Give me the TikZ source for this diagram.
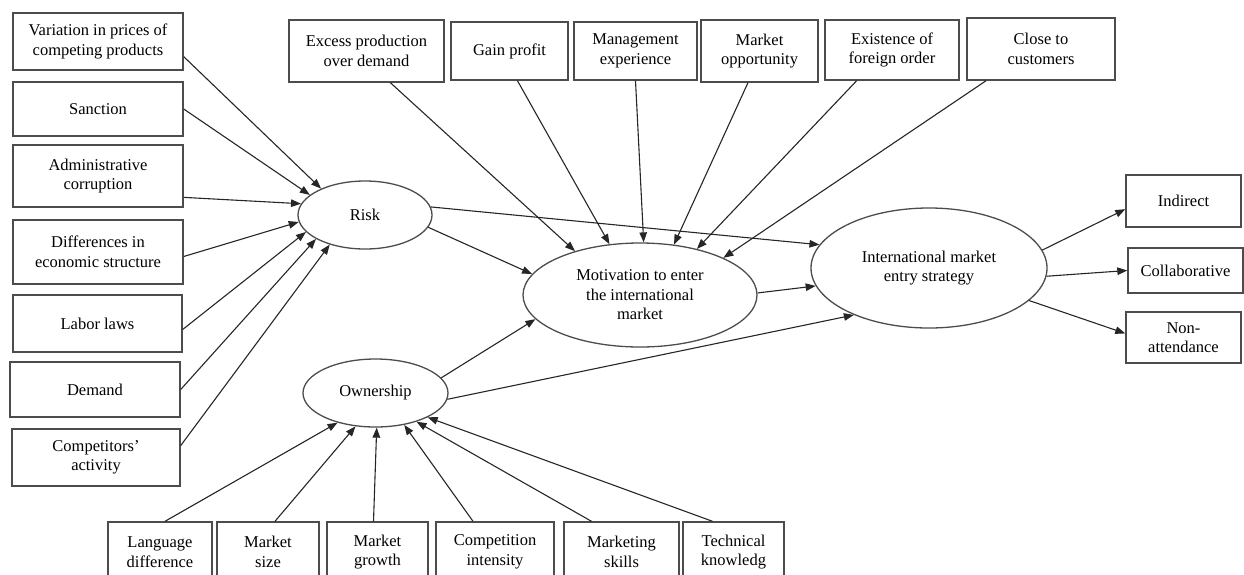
\documentclass[tikz,border=0pt]{standalone}
\usepackage{fontspec}
\setmainfont{Liberation Serif}
\usetikzlibrary{shapes,arrows.meta,positioning}
\tikzstyle{bx}=[rectangle, draw=black!70, line width=1.4, inner sep=2pt, align=center, font=\fontsize{16.5}{19.5}\selectfont]
\tikzstyle{ell}=[ellipse, draw=black!70, line width=1.3, inner sep=0pt, align=center, font=\fontsize{16.5}{19.5}\selectfont]
\tikzstyle{l1}=[line width=1.1, draw=black!85, -{Triangle[length=10pt,width=7.5pt]}]

\begin{document}
\begin{tikzpicture}[x=1pt, y=-1pt]
    \path[use as bounding box, clip] (0,0) rectangle (1244,574);

    % left column: risk factors
    \node[bx, minimum width=170, minimum height=57] at (98,41.5) (v1) {Variation in prices of\\competing products};
    \node[bx, minimum width=170, minimum height=54] at (98,109) (v2) {Sanction};
    \node[bx, minimum width=170, minimum height=62] at (98,176) (v3) {Administrative\\corruption};
    \node[bx, minimum width=170, minimum height=64] at (98,252) (v4) {Differences in\\economic structure};
    \node[bx, minimum width=169, minimum height=57] at (97.5,323.5) (v5) {Labor laws};
    \node[bx, minimum width=170, minimum height=55] at (95,389.5) (v6) {Demand};
    \node[bx, minimum width=168, minimum height=57] at (96,457.5) (v7) {Competitors'\\activity};

    % top row: motivation factors
    \node[bx, minimum width=155, minimum height=62] at (366.5,51) (m1) {Excess production\\over demand};
    \node[bx, minimum width=117, minimum height=58] at (509.5,51) (m2) {Gain profit};
    \node[bx, minimum width=123, minimum height=58] at (635.5,51) (m3) {Management\\experience};
    \node[bx, minimum width=117, minimum height=62] at (759.5,51) (m4) {Market\\opportunity};
    \node[bx, minimum width=134, minimum height=60] at (892,50) (m5) {Existence of\\foreign order};
    \node[bx, minimum width=148, minimum height=62] at (1041,49) (m6) {Close to\\customers};

    % bottom row: ownership factors
    \node[bx, minimum width=104, minimum height=60] at (160,552) (o1) {Language\\difference};
    \node[bx, minimum width=102, minimum height=60] at (268,552) (o2) {Market\\size};
    \node[bx, minimum width=101, minimum height=60] at (377.5,552) (o3) {Market\\growth};
    \node[bx, minimum width=118, minimum height=60] at (495,552) (o4) {Competition\\intensity};
    \node[bx, minimum width=115, minimum height=60] at (621.5,552) (o5) {Marketing\\skills};
    \node[bx, minimum width=101, minimum height=60] at (733.5,552) (o6) {Technical\\knowledg};

    % right column: strategies
    \node[bx, minimum width=115, minimum height=52] at (1183.5,201) (s1) {Indirect};
    \node[bx, minimum width=115, minimum height=45] at (1185.5,270.5) (s2) {Collaborative};
    \node[bx, minimum width=115, minimum height=51] at (1183.5,337.5) (s3) {Non-\\attendance};

    % ellipses
    \node[ell, minimum width=134, minimum height=68] at (365,215) (risk) {Risk};
    \node[ell, minimum width=234, minimum height=104] at (640,295) (mot) {Motivation to enter\\the international\\market};
    \node[ell, minimum width=145, minimum height=68] at (375.5,393) (own) {Ownership};
    \node[ell, minimum width=236, minimum height=120] at (929,268) (ims) {International market\\entry strategy};

    \draw[l1] (v1.-10) -- (risk.149);
    \draw[l1] (v2.east) -- (risk.160);
    \draw[l1] (v3.-14.5) -- (risk.170);
    \draw[l1] (v4.-3) -- (risk.186);
    \draw[l1] (v5.-4.4) -- (risk.196);
    \draw[l1] (v6.east) -- (risk.206);
    \draw[l1] (v7.8.5) -- (risk.220);

    \draw[l1] (m1.-53) -- (mot.146);
    \draw[l1] (m2.-75.5) -- (mot.121);
    \draw[l1] (m3.south) -- (mot.86);
    \draw[l1] (m4.-110) -- (mot.56);
    \draw[l1] (m5.-139.4) -- (mot.39);
    \draw[l1] (m6.-150.6) -- (mot.24);

    \draw[l1] ([xshift=5pt]o1.north) -- (own.218);
    \draw[l1] ([xshift=7pt]o2.north) -- (own.239);
    \draw[l1] ([xshift=-4pt]o3.north) -- (own.272);
    \draw[l1] ([xshift=-22pt]o4.north) -- (own.312);
    \draw[l1] ([xshift=-30pt]o5.north) -- (own.325);
    \draw[l1] ([xshift=-21pt]o6.north) -- (own.335);

    \draw[l1] (risk.-11) -- (mot.169);
    \draw[l1] (risk.7) -- (ims.168);
    \draw[l1] (mot.1) -- (ims.189);
    \draw[l1] (own.13) -- (mot.193);
    \draw[l1] (own.-5) -- (ims.212);

    \draw[l1] (ims.9) -- (s1.188);
    \draw[l1] (ims.-4) -- (s2.west);
    \draw[l1] (ims.-18) -- (s3.176);
\end{tikzpicture}
\end{document}
